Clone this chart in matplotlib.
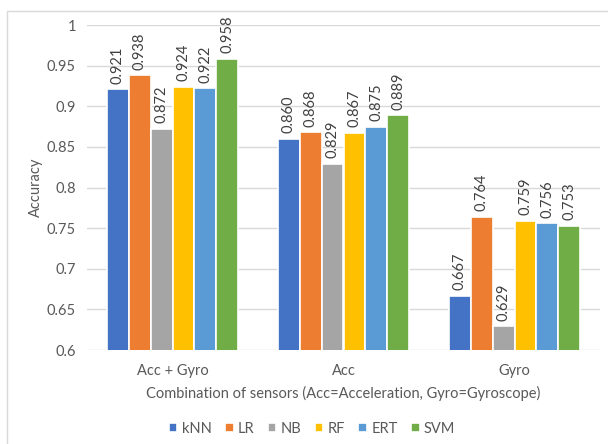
import numpy as np
import matplotlib.pyplot as plt
from matplotlib.patches import Rectangle

# 数据
groups = ['Acc + Gyro', 'Acc', 'Gyro']
models = ['kNN', 'LR', 'NB', 'RF', 'ERT', 'SVM']
knn = [0.921, 0.860, 0.667]
lr = [0.938, 0.868, 0.764]
nb = [0.872, 0.829, 0.629]
rf = [0.924, 0.867, 0.759]
ert = [0.922, 0.875, 0.756]
svm = [0.958, 0.889, 0.753]
series = [knn, lr, nb, rf, ert, svm]
colors = ['#4472C4', '#ED7D31', '#A5A5A5', '#FFC000', '#5B9BD5', '#70AD47']

plt.rcParams['font.family'] = ['Lato', 'DejaVu Sans']
text_color = '#595959'

fig = plt.figure(figsize=(6.08, 4.44), dpi=100)
# 外框
fig.patches.append(Rectangle((7 / 608, -0.1), 1.2, 1 - 11 / 444 + 0.1,
                             transform=fig.transFigure, fill=False,
                             edgecolor='#D9D9D9', lw=1))
ax = fig.add_axes([87 / 608, 1 - 350 / 444, 513 / 608, 325 / 444])

x = np.arange(len(groups))
slot = 0.128
for i, (vals, c) in enumerate(zip(series, colors)):
    pos = x + (i - 2.5) * slot
    bars = ax.bar(pos, vals, width=slot, color=c, edgecolor='white',
                  linewidth=1.2, label=models[i], zorder=3)
    for b, v in zip(bars, vals):
        ax.text(b.get_x() + b.get_width() / 2, v + 0.007, f'{v:.3f}',
                rotation=90, ha='center', va='bottom', fontsize=10.5,
                color='#404040')

ax.set_ylim(0.6, 1.0)
ax.set_xlim(-0.5, 2.5)
ax.set_yticks(np.arange(0.6, 1.001, 0.05))
ax.set_yticklabels(['0.6', '0.65', '0.7', '0.75', '0.8', '0.85', '0.9', '0.95', '1'])
ax.set_xticks(x)
ax.set_xticklabels(groups)
ax.tick_params(length=0, colors=text_color, labelsize=10.5)
ax.tick_params(axis='x', pad=10)
ax.tick_params(axis='y', pad=8)
ax.grid(axis='y', color='#D9D9D9', lw=1, zorder=0)
for s in ax.spines.values():
    s.set_visible(False)

ax.set_ylabel('Accuracy', color=text_color, fontsize=10.5, labelpad=3)
ax.set_xlabel('Combination of sensors (Acc=Acceleration, Gyro=Gyroscope)',
              color=text_color, fontsize=10.5, labelpad=6)

fig.legend(loc='center', bbox_to_anchor=(312 / 608, 1 - 429 / 444), ncol=6,
           frameon=False, handlelength=0.6, handleheight=0.6, handletextpad=0.3,
           columnspacing=0.9, fontsize=10.5, labelcolor=text_color)

fig.savefig('out.png', dpi=100)
